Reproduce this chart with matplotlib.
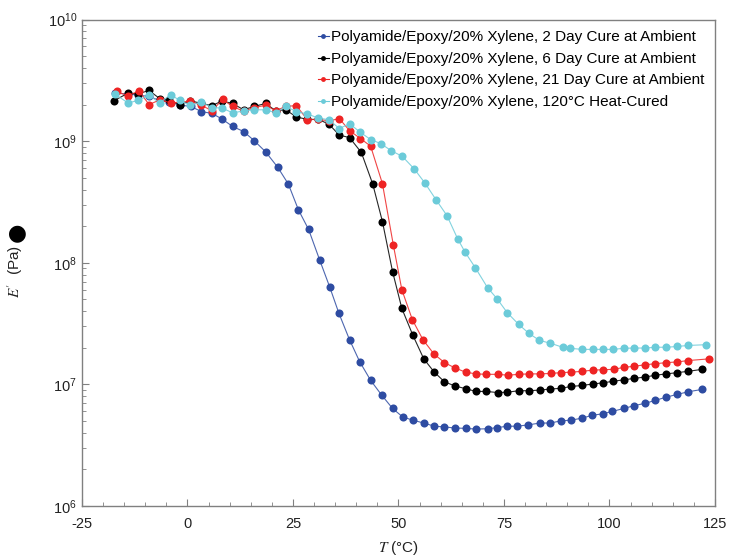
import matplotlib
matplotlib.use('Agg')
import matplotlib.pyplot as plt
from matplotlib.ticker import MultipleLocator, LogLocator, FuncFormatter, NullFormatter
import numpy as np

plt.rcParams['font.family'] = ['Liberation Sans', 'DejaVu Sans']
plt.rcParams['mathtext.fontset'] = 'stix'
plt.rcParams['axes.unicode_minus'] = False

# 2 day cure at ambient
t_2day = [-17.2, -14.1, -11.7, -9.1, -6.6, -4.3, -1.8, 0.8, 3.3, 5.8, 8.2, 10.7, 13.3, 15.8,
          18.5, 21.4, 23.9, 26.3, 28.7, 31.3, 33.7, 35.9, 38.4, 40.8, 43.4, 46.0, 48.6, 51.0,
          53.4, 56.0, 58.5, 60.9, 63.3, 65.9, 68.4, 71.3, 73.3, 75.8, 78.2, 80.8, 83.5, 86.0,
          88.4, 90.9, 93.5, 95.9, 98.4, 100.7, 103.4, 105.8, 108.5, 110.9, 113.4, 116.1, 118.6, 122.0]
e_2day = [2.48e9, 2.44e9, 2.39e9, 2.33e9, 2.16e9, 2.11e9, 1.98e9, 1.93e9, 1.75e9, 1.69e9, 1.52e9,
          1.32e9, 1.20e9, 1.01e9, 8.18e8, 6.09e8, 4.44e8, 2.72e8, 1.88e8, 1.06e8, 6.33e7, 3.83e7,
          2.33e7, 1.54e7, 1.08e7, 8.18e6, 6.34e6, 5.40e6, 5.08e6, 4.81e6, 4.53e6, 4.47e6, 4.38e6,
          4.35e6, 4.29e6, 4.32e6, 4.41e6, 4.53e6, 4.53e6, 4.65e6, 4.81e6, 4.81e6, 5.01e6, 5.08e6,
          5.28e6, 5.57e6, 5.73e6, 6.00e6, 6.34e6, 6.68e6, 7.00e6, 7.39e6, 7.85e6, 8.28e6, 8.69e6, 9.10e6]

# 6 day cure at ambient
t_6day = [-17.4, -14.1, -11.7, -9.1, -6.6, -4.3, -1.8, 0.7, 3.3, 5.8, 8.2, 10.7, 13.3, 15.8,
          18.5, 20.9, 23.3, 25.8, 28.4, 31.0, 33.5, 36.0, 38.4, 41.2, 43.9, 46.2, 48.6, 50.8,
          53.4, 56.0, 58.5, 60.9, 63.3, 65.9, 68.4, 70.8, 73.5, 75.8, 78.5, 81.0, 83.5, 86.0,
          88.4, 90.9, 93.5, 96.0, 98.5, 100.8, 103.4, 105.8, 108.5, 110.9, 113.5, 116.1, 118.6, 122.0]
e_6day = [2.15e9, 2.48e9, 2.45e9, 2.61e9, 2.24e9, 2.16e9, 2.00e9, 2.15e9, 2.04e9, 1.96e9, 2.14e9,
          2.04e9, 1.81e9, 1.93e9, 2.04e9, 1.78e9, 1.81e9, 1.58e9, 1.51e9, 1.51e9, 1.38e9, 1.12e9,
          1.07e9, 8.07e8, 4.44e8, 2.18e8, 8.46e7, 4.21e7, 2.54e7, 1.62e7, 1.26e7, 1.05e7, 9.73e6,
          9.22e6, 8.75e6, 8.75e6, 8.57e6, 8.62e6, 8.87e6, 8.87e6, 8.98e6, 9.16e6, 9.28e6, 9.61e6,
          9.80e6, 1.007e7, 1.03e7, 1.06e7, 1.09e7, 1.12e7, 1.15e7, 1.19e7, 1.22e7, 1.25e7, 1.28e7, 1.33e7]

# 21 day cure at ambient
t_21day = [-16.8, -14.1, -11.5, -9.1, -6.6, -3.8, 0.7, 3.3, 5.8, 8.3, 10.7, 13.3, 15.8, 18.5,
           20.9, 23.3, 25.8, 28.4, 31.0, 33.5, 36.0, 38.4, 41.0, 43.4, 46.2, 48.8, 50.8, 53.3,
           55.8, 58.4, 60.9, 63.3, 65.9, 68.4, 70.8, 73.5, 76.0, 78.5, 81.0, 83.5, 86.1, 88.6,
           90.9, 93.5, 96.0, 98.5, 101.0, 103.4, 105.9, 108.5, 110.9, 113.5, 116.1, 118.6, 123.5]
e_21day = [2.56e9, 2.36e9, 2.59e9, 2.00e9, 2.18e9, 2.06e9, 2.13e9, 1.97e9, 1.78e9, 2.20e9, 1.93e9,
           1.76e9, 1.89e9, 1.97e9, 1.78e9, 1.93e9, 1.96e9, 1.50e9, 1.51e9, 1.47e9, 1.53e9, 1.22e9,
           1.05e9, 9.10e8, 4.47e8, 1.39e8, 6.00e7, 3.40e7, 2.33e7, 1.78e7, 1.51e7, 1.37e7, 1.26e7,
           1.22e7, 1.21e7, 1.21e7, 1.19e7, 1.21e7, 1.22e7, 1.22e7, 1.23e7, 1.25e7, 1.26e7, 1.28e7,
           1.31e7, 1.32e7, 1.33e7, 1.38e7, 1.41e7, 1.45e7, 1.48e7, 1.51e7, 1.53e7, 1.57e7, 1.62e7]

# 120 C heat-cured
t_heat = [-17.2, -14.1, -11.7, -9.1, -6.6, -4.0, -1.8, 0.7, 3.3, 5.8, 8.2, 10.7, 13.3, 15.8,
          18.5, 20.9, 23.3, 25.8, 28.4, 31.0, 33.5, 36.0, 38.4, 41.0, 43.4, 45.8, 48.3, 50.9,
          53.7, 56.2, 58.9, 61.5, 64.0, 65.8, 68.2, 71.1, 73.4, 75.8, 78.5, 80.9, 83.4, 86.0,
          88.9, 90.7, 93.5, 96.0, 98.4, 100.8, 103.4, 105.8, 108.5, 110.9, 113.5, 116.1, 118.6, 122.9]
e_heat = [2.44e9, 2.06e9, 2.16e9, 2.39e9, 2.06e9, 2.41e9, 2.16e9, 1.97e9, 2.09e9, 1.89e9, 1.87e9,
          1.71e9, 1.77e9, 1.81e9, 1.81e9, 1.71e9, 1.93e9, 1.75e9, 1.67e9, 1.55e9, 1.50e9, 1.27e9,
          1.39e9, 1.18e9, 1.03e9, 9.55e8, 8.34e8, 7.50e8, 5.93e8, 4.56e8, 3.30e8, 2.44e8, 1.58e8,
          1.22e8, 9.11e7, 6.25e7, 5.04e7, 3.88e7, 3.11e7, 2.63e7, 2.30e7, 2.18e7, 2.02e7, 1.98e7,
          1.94e7, 1.94e7, 1.94e7, 1.94e7, 1.98e7, 1.99e7, 1.99e7, 2.02e7, 2.02e7, 2.05e7, 2.09e7, 2.12e7]

labels = ['Polyamide/Epoxy/20% Xylene, 2 Day Cure at Ambient',
          'Polyamide/Epoxy/20% Xylene, 6 Day Cure at Ambient',
          'Polyamide/Epoxy/20% Xylene, 21 Day Cure at Ambient',
          'Polyamide/Epoxy/20% Xylene, 120\u00b0C Heat-Cured']
colors = ['#2e4ca2', '#000000', '#ee2424', '#6ccbd9']

fig = plt.figure(figsize=(7.3, 5.56), dpi=100)
ax = fig.add_axes([0.1123, 0.0899, 0.8671, 0.8750])

series = [(t_2day, e_2day), (t_6day, e_6day), (t_21day, e_21day), (t_heat, e_heat)]
for (t, e), c, lab in zip(series, colors, labels):
    ax.plot(t, e, '-', color=c, lw=0.8, alpha=0.85)
    ax.plot(t, e, 'o', color=c, ms=5.8, mec='none')
    ax.plot([], [], '-o', color=c, lw=0.8, ms=3.5, mec='none', label=lab)

ax.set_yscale('log')
ax.set_xlim(-25, 125)
ax.set_ylim(1e6, 1e10)
ax.xaxis.set_major_locator(MultipleLocator(25))
ax.xaxis.set_minor_locator(MultipleLocator(5))
ax.yaxis.set_major_locator(LogLocator(base=10, numticks=10))
ax.yaxis.set_minor_locator(LogLocator(base=10, subs=np.arange(2, 10), numticks=20))
ax.yaxis.set_minor_formatter(NullFormatter())
ax.yaxis.set_major_formatter(FuncFormatter(
    lambda v, p: r'$\mathregular{10^{%d}}$' % round(np.log10(v))))

for s in ax.spines.values():
    s.set_color('#808080')
    s.set_linewidth(1.0)
ax.tick_params(which='both', direction='in', color='#808080', labelcolor='#222222',
               labelsize=10.5, top=False, right=False)
ax.tick_params(which='major', length=5)
ax.tick_params(which='minor', length=3)
ax.tick_params(axis='x', pad=8)

ax.set_xlabel('$T$ (\u00b0C)', fontsize=11, color='#222222', labelpad=6)
ax.text(-0.106, 0.483, r"$E'$  (Pa)", transform=ax.transAxes, rotation=90,
        ha='center', va='center', fontsize=11, color='#222222')
ax.text(-0.104, 0.562, '\u25cf', transform=ax.transAxes, rotation=90,
        ha='center', va='center', fontsize=16, family='DejaVu Sans', color='black')

ax.legend(loc='upper right', bbox_to_anchor=(1.0, 1.0), frameon=False, fontsize=11,
          handlelength=0.7, handletextpad=0.15, labelspacing=0.5, borderaxespad=0.3)

fig.savefig('out.png', dpi=100)
